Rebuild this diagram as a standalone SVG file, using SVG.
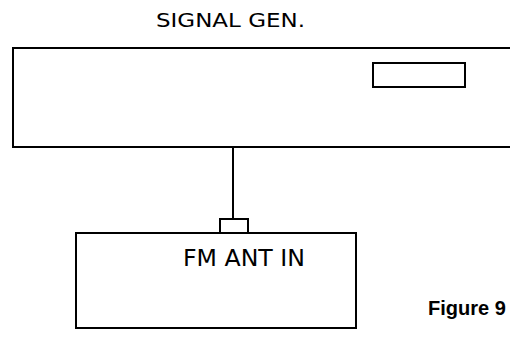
<svg xmlns="http://www.w3.org/2000/svg" width="510" height="338" viewBox="0 0 510 338">
<style>
.ln{fill:none;stroke:#000;stroke-width:2}
.lbl{font-family:"DejaVu Sans","Liberation Sans",sans-serif;fill:#000}
</style>
<rect width="510" height="338" fill="#fff"/>
<g id="signal-gen">
<path class="ln" d="M512,48 H13 V147 H512"/>
<rect class="ln" x="373" y="63" width="92" height="24"/>
<text class="lbl" x="156" y="27" font-size="19" textLength="149" lengthAdjust="spacingAndGlyphs">SIGNAL GEN.</text>
</g>
<g id="connectors">
<line class="ln" x1="233" y1="147" x2="233" y2="219"/>
</g>
<g id="receiver">
<rect class="ln" x="220" y="219" width="28" height="14"/>
<rect class="ln" x="76" y="233" width="280" height="95"/>
<text class="lbl" x="183" y="266" font-size="23" textLength="122" lengthAdjust="spacingAndGlyphs">FM ANT IN</text>
</g>
<text x="428" y="315" font-family="Liberation Sans,Arial,sans-serif" font-weight="bold" font-size="20" fill="#000">Figure 9</text>
</svg>
